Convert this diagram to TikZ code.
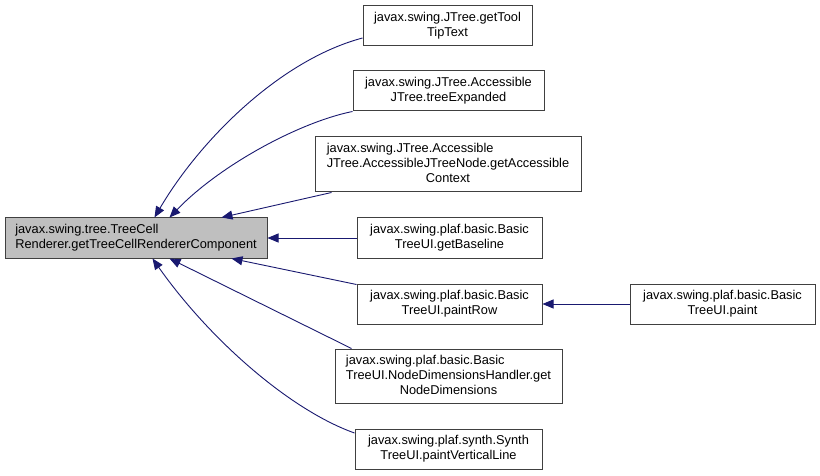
\documentclass[tikz,border=0pt]{standalone}
\usepackage{fontspec}
\setmainfont{Liberation Sans}
\usetikzlibrary{arrows.meta,calc}
\definecolor{edgeblue}{HTML}{191970}
\definecolor{rootfill}{HTML}{BFBFBF}
\definecolor{boxline}{HTML}{404040}
\begin{document}
\begin{tikzpicture}[x=1pt,y=-1pt,
  box/.style={draw=boxline, line width=1pt, fill=white, inner sep=0pt, align=center,
    font=\fontsize{12.8}{15}\selectfont},
  rootbox/.style={box, fill=rootfill},
  edge/.style={draw=edgeblue, line width=0.9pt, -{Triangle[length=11pt,width=9pt]}}]
\useasboundingbox[fill=white] (0,0) rectangle (820,476);
\node[rootbox, minimum width=262pt, minimum height=40pt] (main) at (136,238)
  {\begin{tabular}{@{}l@{}}javax.swing.tree.TreeCell\\Renderer.getTreeCellRendererComponent\end{tabular}};
\node[box, minimum width=169pt, minimum height=40pt] (n1) at (447.5,26)
  {javax.swing.JTree.getTool\\TipText};
\node[box, minimum width=191pt, minimum height=40pt] (n2) at (448.5,91)
  {javax.swing.JTree.Accessible\\JTree.treeExpanded};
\node[box, minimum width=266pt, minimum height=55pt] (n3) at (448,164.5)
  {\begin{tabular}{@{}l@{}}javax.swing.JTree.Accessible\\JTree.AccessibleJTreeNode.getAccessible\\\multicolumn{1}{@{}c@{}}{Context}\end{tabular}};
\node[box, minimum width=185pt, minimum height=40pt] (n4) at (449.5,238)
  {javax.swing.plaf.basic.Basic\\TreeUI.getBaseline};
\node[box, minimum width=185pt, minimum height=40pt] (n5) at (449.5,304)
  {javax.swing.plaf.basic.Basic\\TreeUI.paintRow};
\node[box, minimum width=227pt, minimum height=54pt] (n6) at (448.5,376)
  {\begin{tabular}{@{}l@{}}javax.swing.plaf.basic.Basic\\TreeUI.NodeDimensionsHandler.get\\\multicolumn{1}{@{}c@{}}{NodeDimensions}\end{tabular}};
\node[box, minimum width=187pt, minimum height=40pt] (n7) at (448.5,449)
  {javax.swing.plaf.synth.Synth\\TreeUI.paintVerticalLine};
\node[box, minimum width=185pt, minimum height=40pt] (n8) at (722.5,304)
  {javax.swing.plaf.basic.Basic\\TreeUI.paint};

\draw[edge] ($(n1.west)+(0,12)$) .. controls (280,60) and (200,140) .. ($(main.north west)+(150,0)$);
\draw[edge] (n2.south west) .. controls (300,122) and (220,165) .. ($(main.north west)+(165,0)$);
\draw[edge] ($(n3.south west)+(17,0)$) -- ($(main.north west)+(217,0)$);
\draw[edge] (n4.west) -- (main.east);
\draw[edge] ($(n5.north west)+(0,1)$) -- ($(main.south west)+(227,0)$);
\draw[edge] ($(n6.north west)+(17,0)$) -- ($(main.south west)+(165,0)$);
\draw[edge] ($(n7.west)+(0,-16)$) .. controls (290,410) and (210,340) .. ($(main.south west)+(148,0)$);
\draw[edge] (n8.west) -- (n5.east);
\end{tikzpicture}
\end{document}
